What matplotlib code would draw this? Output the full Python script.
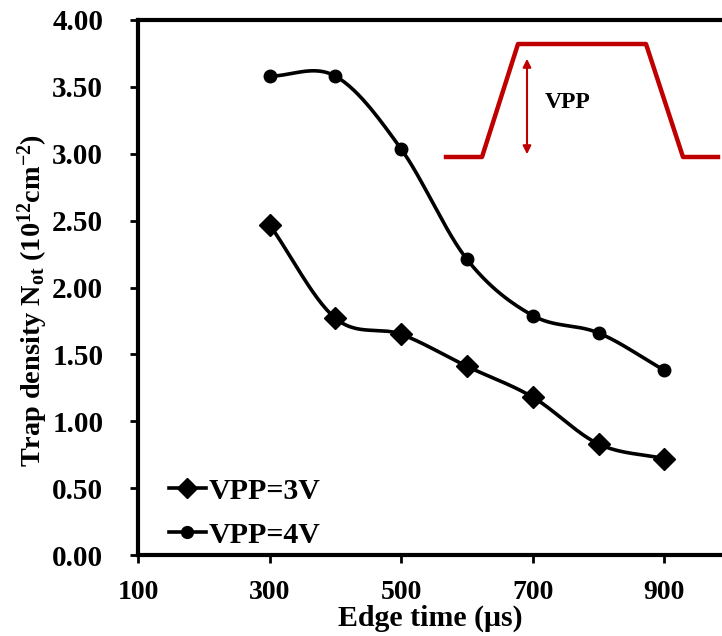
import numpy as np
import matplotlib
matplotlib.use('Agg')
import matplotlib.pyplot as plt
from matplotlib.lines import Line2D

plt.rcParams['font.family'] = ['Liberation Serif', 'DejaVu Serif']
plt.rcParams['font.weight'] = 'bold'
plt.rcParams['mathtext.fontset'] = 'custom'
plt.rcParams['mathtext.rm'] = 'Liberation Serif:bold'
plt.rcParams['mathtext.it'] = 'Liberation Serif:bold'
plt.rcParams['mathtext.bf'] = 'Liberation Serif:bold'

# dati
edge_time = [300, 400, 500, 600, 700, 800, 900]
not_3v = [2.47, 1.77, 1.65, 1.41, 1.18, 0.83, 0.72]
not_4v = [3.58, 3.58, 3.035, 2.21, 1.79, 1.66, 1.38]
y_ticks = [0.0, 0.5, 1.0, 1.5, 2.0, 2.5, 3.0, 3.5, 4.0]
x_ticks = [100, 300, 500, 700, 900]


# Curva smussata tipo Excel (Catmull-Rom) tra i punti
def smooth(xs, ys, n=30):
    x = np.array(xs, float)
    y = np.array(ys, float)
    px = np.concatenate([[2 * x[0] - x[1]], x, [2 * x[-1] - x[-2]]])
    py = np.concatenate([[2 * y[0] - y[1]], y, [2 * y[-1] - y[-2]]])
    outx, outy = [], []
    for i in range(1, len(px) - 2):
        t = np.linspace(0, 1, n)
        for arr, out in ((px, outx), (py, outy)):
            p0, p1, p2, p3 = arr[i - 1], arr[i], arr[i + 1], arr[i + 2]
            out.extend(0.5 * ((2 * p1) + (-p0 + p2) * t + (2 * p0 - 5 * p1 + 4 * p2 - p3) * t ** 2
                              + (-p0 + 3 * p1 - 3 * p2 + p3) * t ** 3))
    return outx, outy


W, H = 722, 636
fig = plt.figure(figsize=(W / 100, H / 100), dpi=100)
ax = fig.add_axes([138 / W, 81 / H, (W - 138) / W, 535 / H])

for yy, mk, ms in ((not_3v, 'D', 11.5), (not_4v, 'o', 9)):
    sx, sy = smooth(edge_time, yy)
    ax.plot(sx, sy, color='black', lw=2.6, zorder=2)
    ax.plot(edge_time, yy, ls='none', marker=mk, ms=ms, color='black', zorder=3)

ax.set_xlim(100, 100 + (W - 138) / 131.6 * 200)
ax.set_ylim(0, 4)
ax.set_xticks(x_ticks)
ax.set_yticks(y_ticks)
ax.set_yticklabels(['%.2f' % v for v in y_ticks])
ax.tick_params(width=2, length=6, direction='out')
ax.tick_params(axis='x', labelsize=20, pad=12)
ax.tick_params(axis='y', labelsize=21, pad=19)
for lab in ax.get_xticklabels() + ax.get_yticklabels():
    lab.set_fontweight('bold')
for s in ['left', 'bottom', 'top']:
    ax.spines[s].set_linewidth(3)
ax.spines['right'].set_visible(False)

ax.set_xlabel('Edge time (\u03bcs)', fontsize=21.5, fontweight='bold', labelpad=0)
ax.set_ylabel(r'Trap density N$_{\mathrm{ot}}$ (10$^{\mathrm{12}}$cm$^{\mathrm{-2}}$)',
              fontsize=20.3, fontweight='bold')
ax.yaxis.set_label_coords(-0.15, 0.475)

handles = [Line2D([], [], color='black', lw=2.6, marker='D', ms=10),
           Line2D([], [], color='black', lw=2.6, marker='o', ms=8.5)]
ax.legend(handles, ['VPP=3V', 'VPP=4V'], loc='lower left', frameon=False,
          prop={'size': 21.5, 'weight': 'bold'}, handlelength=1.25, handletextpad=0.08,
          labelspacing=0.58, borderaxespad=0.0, bbox_to_anchor=(0.032, -0.011))

# Impulso in rosso (coordinate in pixel della figura)
red = '#C00000'
px_to_fig = lambda x, y: (x / W, 1 - y / H)
pts = [(446, 157), (482, 157), (518, 44), (646, 44), (683, 157), (718, 157)]
fx, fy = zip(*[px_to_fig(x, y) for x, y in pts])
fig.add_artist(Line2D(fx, fy, color=red, lw=3.2, transform=fig.transFigure))
ax.annotate('', xy=px_to_fig(527, 157), xytext=px_to_fig(527, 56),
            xycoords='figure fraction', textcoords='figure fraction',
            arrowprops=dict(arrowstyle='<|-|>', color=red, lw=1.5, mutation_scale=12))
fig.text(545 / W, 1 - 102 / H, 'VPP', fontsize=17, fontweight='bold', va='center', ha='left')

fig.savefig('out.png', dpi=100)
